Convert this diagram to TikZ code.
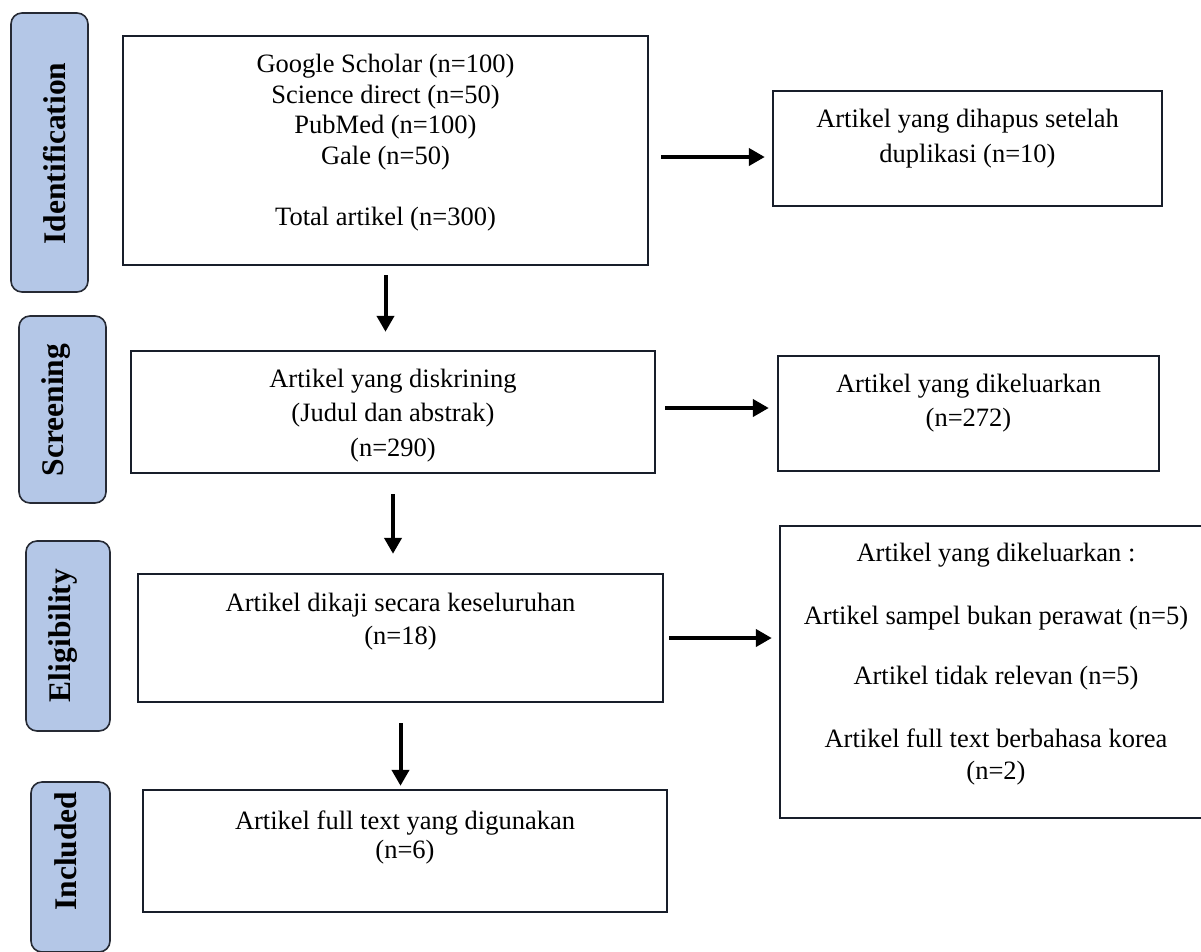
\documentclass[tikz,border=0pt]{standalone}
\usepackage{fontspec}
\setmainfont{Liberation Serif}
\usepackage{xcolor}
\usepackage{tikz}
\usetikzlibrary{positioning,arrows.meta}
\definecolor{phasefill}{RGB}{180,199,231}
\definecolor{phaseline}{RGB}{38,42,52}
\definecolor{boxline}{RGB}{24,30,42}

\tikzset{
  phasebox/.style={draw=phaseline,fill=phasefill,line width=1.6pt,rounded corners=11pt,inner sep=0pt},
  phasetext/.style={rotate=90,inner sep=0pt,font=\fontsize{31.5}{36}\selectfont\bfseries},
  flowbox/.style={draw=boxline,line width=2.4pt,inner sep=0pt},
  flowtext/.style={inner sep=0pt,align=center,font=\fontsize{26.5}{32.5}\selectfont},
  flowarrow/.style={line width=4pt,-{Triangle[length=16pt,width=17pt]}}
}

\begin{document}
\begin{tikzpicture}[x=1pt,y=-1pt]
    \useasboundingbox (0,0) rectangle (1201,951);
    \clip (0,0) rectangle (1201,951);

    % Phase labels
    \foreach \name/\x/\y/\w/\h/\tx/\ty/\txt in {
        ident/49.5/152.5/77/279/55/153.5/Identification,
        screen/62.5/409.5/87/187/56/410/Screening,
        elig/68/636/84/190/63/635.5/Eligibility,
        incl/70.5/867/79/170/65.5/851/Included} {
        \node[phasebox,minimum width=\w pt,minimum height=\h pt] (\name) at (\x,\y) {};
        \node[phasetext] (\name-label) at (\tx,\ty) {\txt};
    }

    % Main flow
    \node[flowbox,minimum width=525pt,minimum height=229pt] (idbox) at (385.5,150.5) {};
    \node[flowbox,minimum width=524pt,minimum height=122pt] (scbox) at (393,412) {};
    \node[flowbox,minimum width=525pt,minimum height=128pt] (elbox) at (400.5,638) {};
    \node[flowbox,minimum width=524pt,minimum height=122pt] (inbox) at (405,851) {};

    % Excluded articles
    \node[flowbox,minimum width=389pt,minimum height=115pt] (dupbox) at (967.5,148.5) {};
    \node[flowbox,minimum width=381pt,minimum height=115pt] (exbox) at (968.5,413.5) {};
    \node[flowbox,minimum width=432pt,minimum height=292pt] (ex2box) at (996,672) {};

    % Box texts
    \node[flowtext,font=\fontsize{26.5}{30.7}\selectfont,below=19pt of idbox.north] (idtext)
        {Google Scholar (n=100)\\Science direct (n=50)\\PubMed (n=100)\\Gale (n=50)\\[30.5pt]Total artikel (n=300)};
    \node[flowtext,font=\fontsize{26.5}{34.5}\selectfont,below=19pt of scbox.north] (sctext)
        {Artikel yang diskrining\\(Judul dan abstrak)\\(n=290)};
    \node[flowtext,font=\fontsize{26.5}{33}\selectfont,below=20pt of elbox.north] (eltext)
        {Artikel dikaji secara keseluruhan\\(n=18)};
    \node[flowtext,font=\fontsize{26.5}{29}\selectfont,below=22pt of inbox.north] (intext)
        {Artikel full text yang digunakan\\(n=6)};
    \node[flowtext,font=\fontsize{26.5}{35}\selectfont,below=19pt of dupbox.north] (duptext)
        {Artikel yang dihapus setelah\\duplikasi (n=10)};
    \node[flowtext,font=\fontsize{26.5}{34}\selectfont,below=19pt of exbox.north] (extext)
        {Artikel yang dikeluarkan\\(n=272)};
    \node[flowtext,below=18pt of ex2box.north] (ex2text)
        {Artikel yang dikeluarkan :\\[30.5pt]Artikel sampel bukan perawat (n=5)\\[27.5pt]Artikel tidak relevan (n=5)\\[30.5pt]Artikel full text berbahasa korea\\(n=2)};

    % Arrows down
    \draw[flowarrow,shorten <=9pt,shorten >=18pt] (idbox.south) -- (idbox.south |- scbox.north);
    \draw[flowarrow,shorten <=20pt,shorten >=19pt] (scbox.south) -- (scbox.south |- elbox.north);
    \draw[flowarrow,shorten <=20pt,shorten >=3pt] (elbox.south) -- (elbox.south |- inbox.north);

    % Arrows right
    \draw[flowarrow,transform canvas={yshift=-6.5pt},shorten <=12pt,shorten >=7pt] (idbox.east) -- (idbox.east -| dupbox.west);
    \draw[flowarrow,transform canvas={yshift=4pt},shorten <=9pt,shorten >=8pt] (scbox.east) -- (scbox.east -| exbox.west);
    \draw[flowarrow,shorten <=5pt,shorten >=7pt] (elbox.east) -- (elbox.east -| ex2box.west);
\end{tikzpicture}
\end{document}
